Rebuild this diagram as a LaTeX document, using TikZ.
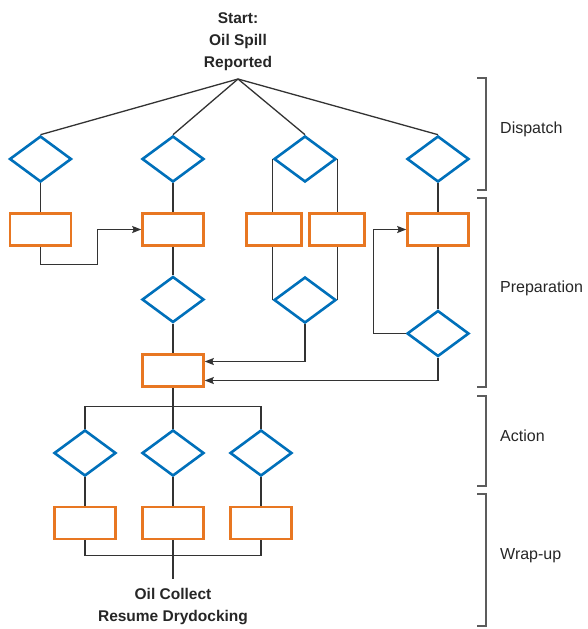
\documentclass[tikz,border=0pt]{standalone}
\usepackage{fontspec}
\setmainfont{Liberation Sans}
\usetikzlibrary{shapes.geometric,arrows.meta}
\definecolor{dblue}{RGB}{0,112,186}
\definecolor{dorange}{RGB}{232,119,34}
\definecolor{lgray}{RGB}{51,51,51}
\begin{document}
\begin{tikzpicture}[x=1pt,y=-1pt,
  dec/.style={shape=diamond,draw=dblue,line width=2.6pt,minimum width=62pt,minimum height=46pt,inner sep=0pt},
  act/.style={shape=rectangle,draw=dorange,line width=2.6pt,minimum width=61pt,minimum height=32pt,inner sep=0pt},
  actn/.style={act,minimum width=55pt},
  conn/.style={draw=lgray,line width=1.3pt},
  arr/.style={conn,-{Stealth[length=9pt,width=7pt,inset=1.5pt]}},
  brk/.style={draw=lgray!80,line width=1.3pt},
  title/.style={font=\fontsize{15.5}{22}\selectfont\bfseries,align=center,text=black!85,inner sep=0pt},
  phase/.style={font=\fontsize{16}{18}\selectfont,anchor=west,text=black!85,inner sep=0pt}]
\useasboundingbox (0,0) rectangle (588,629);
% start
\node[title,anchor=south] (start) at (238,71) {Start:\\Oil Spill\\Reported};
\coordinate (apex) at (238,79);
% dispatch diamonds
\node[dec] (d1) at (40.5,159) {};
\node[dec] (d2) at (173,159) {};
\node[dec] (d3) at (305,159) {};
\node[dec] (d4) at (438,159) {};
% preparation
\node[act] (r1) at (40.5,229.5) {};
\node[act] (r2) at (173,229.5) {};
\node[actn] (r3) at (274,229.5) {};
\node[actn] (r4) at (337,229.5) {};
\node[act] (r5) at (438,229.5) {};
\node[dec] (d7) at (173,299.5) {};
\node[dec] (d5) at (305,300) {};
\node[dec] (d6) at (438,333.5) {};
\node[act] (r6) at (173,370.5) {};
% action
\node[dec] (a1) at (85,453) {};
\node[dec] (a2) at (173,453) {};
\node[dec] (a3) at (261,453) {};
% wrap-up
\node[act] (w1) at (85,523) {};
\node[act] (w2) at (173,523) {};
\node[act] (w3) at (261,523) {};
\node[title,anchor=north] (end) at (173,588) {Oil Collect\\Resume Drydocking};
\coordinate (endtop) at (173,579);
% connectors
\draw[conn] (apex) -- (d1.north);
\draw[conn] (apex) -- (d2.north);
\draw[conn] (apex) -- (d3.north);
\draw[conn] (apex) -- (d4.north);
\draw[conn] (d1.south) -- (r1.north);
\draw[conn] (d2.south) -- (r2.north);
\draw[conn] (d4.south) -- (r5.north);
\draw[conn] (d3.west) -- (d3.west |- r3.north);
\draw[conn] (d3.east) -- (d3.east |- r4.north);
\draw[conn] (d3.west |- r3.south) -- (d5.west);
\draw[conn] (d3.east |- r4.south) -- (d5.east);
\draw[arr] (r1.south) -- ++(0,18) -| ([xshift=-44pt]r2.west) -- (r2.west);
\draw[conn] (r2.south) -- (d7.north);
\draw[conn] (d7.south) -- (r6.north);
\draw[conn] (r5.south) -- (d6.north);
\draw[arr] (d6.west) -- ++(-32,0) |- (r5.west);
\draw[arr] (d5.south) |- ([yshift=9pt]r6.east);
\draw[arr] (d6.south) |- ([yshift=-10pt]r6.east);
\draw[conn] (r6.south) -- (a2.north);
\draw[conn] (a1.north) -- ++(0,-22) -| (a3.north);
\draw[conn] (a1.south) -- (w1.north);
\draw[conn] (a2.south) -- (w2.north);
\draw[conn] (a3.south) -- (w3.north);
\draw[conn] (w1.south) -- ++(0,15) -| (w3.south);
\draw[conn] (w2.south) -- (endtop);
% phase brackets
\draw[brk] (477,78) -- (486,78) -- (486,190) -- (477,190);
\draw[brk] (477,198) -- (486,198) -- (486,387) -- (477,387);
\draw[brk] (477,396) -- (486,396) -- (486,486) -- (477,486);
\draw[brk] (477,494) -- (486,494) -- (486,626) -- (477,626);
\node[phase] (p1) at (500,129) {Dispatch};
\node[phase] (p2) at (500,288) {Preparation};
\node[phase] (p3) at (500,436) {Action};
\node[phase] (p4) at (500,556) {Wrap-up};
\end{tikzpicture}
\end{document}
